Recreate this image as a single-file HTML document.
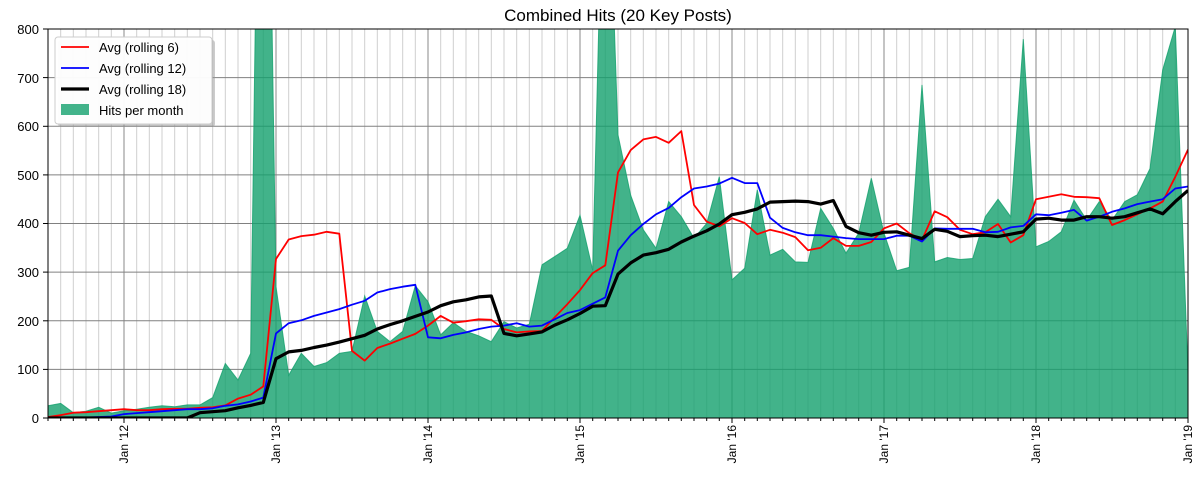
<!DOCTYPE html>
<html><head><meta charset="utf-8"><style>
html,body{margin:0;padding:0;background:#fff;}
svg{display:block;font-family:"Liberation Sans","DejaVu Sans",sans-serif;}
</style></head><body>
<svg id="s" width="1200" height="480" viewBox="0 0 1200 480" xmlns="http://www.w3.org/2000/svg">
<defs><clipPath id="c"><rect x="48" y="29" width="1140" height="389"/></clipPath></defs>
<rect width="1200" height="480" fill="#fff"/>
<g id="grid"></g>
<g clip-path="url(#c)">
<polygon id="fill" fill="#13a06d" fill-opacity="0.8" stroke="#13a06d" stroke-opacity="0.8" stroke-width="1"/>
<polyline id="r6" fill="none" stroke="#ff0000" stroke-width="1.8" stroke-linejoin="round"/>
<polyline id="r12" fill="none" stroke="#0000ff" stroke-width="1.8" stroke-linejoin="round"/>
<polyline id="r18" fill="none" stroke="#000" stroke-width="3.2" stroke-linejoin="round"/>
</g>
<rect x="48" y="29" width="1140" height="389" fill="none" stroke="#000" stroke-width="1"/>
<g id="ticks" stroke="#000" stroke-width="1"></g>
<text x="618" y="21" font-size="17" text-anchor="middle">Combined Hits (20 Key Posts)</text>
<g font-size="13" text-anchor="end">
<text x="39" y="423">0</text><text x="39" y="374">100</text><text x="39" y="326">200</text>
<text x="39" y="277">300</text><text x="39" y="228">400</text><text x="39" y="180">500</text>
<text x="39" y="131">600</text><text x="39" y="83">700</text><text x="39" y="34">800</text>
</g>
<g font-size="12" text-anchor="end">
<text transform="translate(128,425) rotate(-90)">Jan '12</text>
<text transform="translate(280,425) rotate(-90)">Jan '13</text>
<text transform="translate(432,425) rotate(-90)">Jan '14</text>
<text transform="translate(584,425) rotate(-90)">Jan '15</text>
<text transform="translate(736,425) rotate(-90)">Jan '16</text>
<text transform="translate(888,425) rotate(-90)">Jan '17</text>
<text transform="translate(1040,425) rotate(-90)">Jan '18</text>
<text transform="translate(1192,425) rotate(-90)">Jan '19</text>
</g>
<rect x="58" y="40" width="157" height="87" rx="3" fill="#999" opacity="0.5"/>
<rect x="55" y="37" width="157" height="87" rx="3" fill="#fff" fill-opacity="0.95" stroke="#ccc"/>
<line x1="61" y1="47" x2="89" y2="47" stroke="#f00" stroke-width="1.8"/>
<line x1="61" y1="68" x2="89" y2="68" stroke="#00f" stroke-width="1.8"/>
<line x1="61" y1="89" x2="89" y2="89" stroke="#000" stroke-width="3.2"/>
<rect x="61" y="104" width="28" height="11" fill="#13a06d" fill-opacity="0.8"/>
<g font-size="13">
<text x="99" y="52">Avg (rolling 6)</text>
<text x="99" y="73">Avg (rolling 12)</text>
<text x="99" y="94">Avg (rolling 18)</text>
<text x="99" y="115">Hits per month</text>
</g>
</svg>
<script>
var hits=[25,30,11,14,22,10,15,18,22,25,23,27,27,42,112,78,133,2000,270,88,133,106,114,133,137,251,178,157,178,272,239,171,196,178,169,157,198,185,193,315,332,349,417,304,1350,582,458,387,349,445,414,370,400,496,284,308,469,335,347,321,320,431,390,339,380,493,380,303,310,685,321,330,326,328,414,450,414,779,352,363,383,448,407,445,407,445,459,513,716,805,90];
var r6=[2,6,11,12,14,16,18,16,16,18,19,19,21,22,26,40,48,65,327,367,374,377,383,379,138,118,144,153,163,173,190,210,196,199,203,202,183,176,178,179,207,234,263,298,314,505,551,573,578,566,590,438,404,394,411,401,378,387,381,372,345,350,370,354,354,362,390,400,380,366,425,413,387,378,382,399,361,376,450,455,460,455,454,452,397,407,419,431,445,496,552];
var r12=[1,1,1,1,2,3,8,10,12,14,16,18,18,20,25,28,34,42,174,195,201,210,217,224,233,241,258,265,270,274,166,164,171,176,183,188,190,195,188,190,203,216,222,235,248,344,376,399,419,432,454,472,476,482,494,483,483,412,391,382,376,376,373,370,368,368,368,375,375,363,390,389,389,389,382,383,392,395,419,417,422,428,406,414,424,431,440,445,450,472,476];
var r18=[0,0,0,0,0,0,0,0,0,0,0,0,11,13,15,21,26,32,122,136,139,145,150,156,163,170,183,192,200,209,218,231,239,243,249,251,174,169,173,177,191,202,215,230,231,296,319,335,340,347,362,374,385,399,418,423,430,444,445,446,445,440,447,394,381,376,382,383,376,369,388,384,373,375,376,373,378,383,409,411,407,407,414,414,411,414,422,430,420,445,468];
function X(i){return 48+i*1140/90;}
function Y(v){return 418-v*389/800;}
function pts(a){return a.map(function(v,i){return X(i).toFixed(1)+","+Y(v).toFixed(1);}).join(" ");}
document.getElementById("fill").setAttribute("points",X(0)+",418 "+pts(hits)+" "+X(90)+",418");
document.getElementById("r6").setAttribute("points",pts(r6));
document.getElementById("r12").setAttribute("points",pts(r12));
document.getElementById("r18").setAttribute("points",pts(r18));
var g="",t="";
for(var i=0;i<=90;i++){var x=X(i).toFixed(1);var maj=((i-6)%12===0);
g+='<line x1="'+x+'" y1="29" x2="'+x+'" y2="418" stroke="'+(maj?"#8a8a8a":"#cfcfcf")+'" stroke-width="1"/>';
t+='<line x1="'+x+'" y1="418" x2="'+x+'" y2="'+(maj?423:421)+'"/>';}
for(var v=100;v<800;v+=100){var y=Y(v).toFixed(1);g+='<line x1="48" y1="'+y+'" x2="1188" y2="'+y+'" stroke="#808080" stroke-width="1"/>';}
for(var v=0;v<=800;v+=100){var y=Y(v).toFixed(1);t+='<line x1="43" y1="'+y+'" x2="48" y2="'+y+'"/>';}
document.getElementById("grid").innerHTML=g;
document.getElementById("ticks").innerHTML=t;
</script>
</body></html>
